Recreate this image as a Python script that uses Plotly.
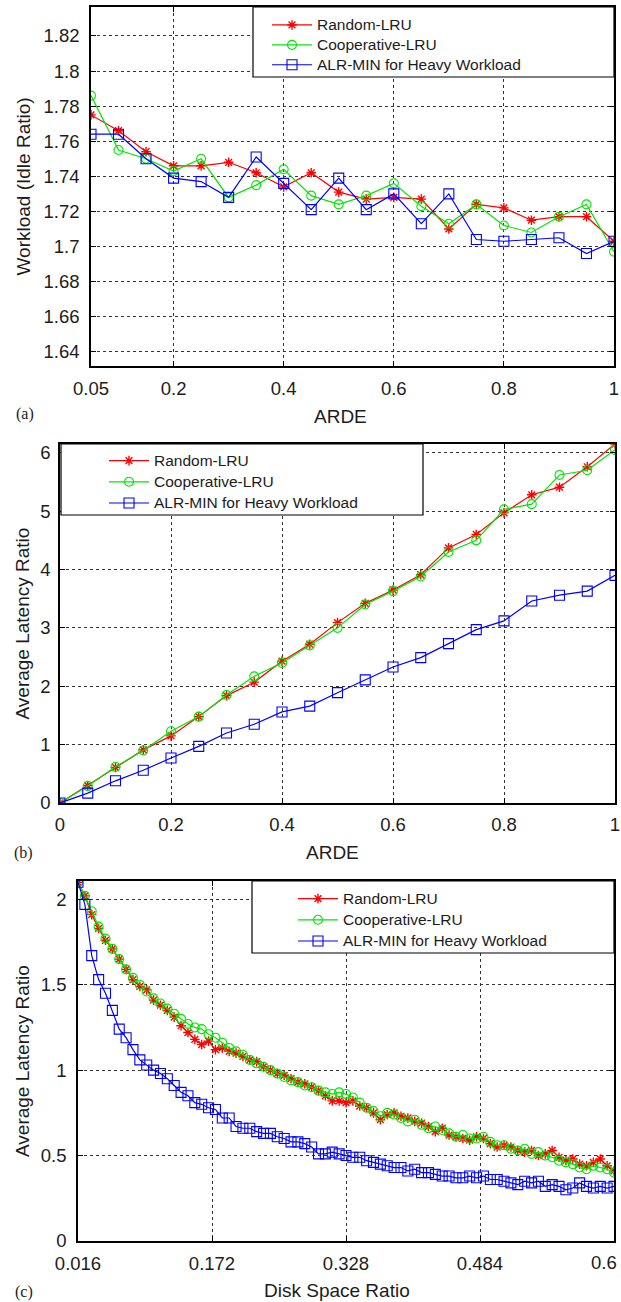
import plotly.graph_objects as go

# ---------------- data ----------------
# Panel (a): Workload (Idle Ratio) vs ARDE
arde_a = [0.05, 0.10, 0.15, 0.20, 0.25, 0.30, 0.35, 0.40, 0.45, 0.50,
          0.55, 0.60, 0.65, 0.70, 0.75, 0.80, 0.85, 0.90, 0.95, 1.00]
a_random = [1.775, 1.766, 1.754, 1.746, 1.746, 1.748, 1.742, 1.734, 1.742, 1.731,
            1.727, 1.728, 1.727, 1.710, 1.724, 1.722, 1.715, 1.717, 1.717, 1.703]
a_coop = [1.786, 1.755, 1.750, 1.743, 1.750, 1.728, 1.735, 1.744, 1.729, 1.724,
          1.729, 1.736, 1.723, 1.713, 1.724, 1.712, 1.708, 1.717, 1.724, 1.697]
a_alr = [1.764, 1.764, 1.750, 1.739, 1.737, 1.728, 1.751, 1.736, 1.721, 1.739,
         1.721, 1.730, 1.713, 1.730, 1.704, 1.703, 1.704, 1.705, 1.696, 1.703]

# Panel (b): Average Latency Ratio vs ARDE
arde_b = [0.00, 0.05, 0.10, 0.15, 0.20, 0.25, 0.30, 0.35, 0.40, 0.45, 0.50,
          0.55, 0.60, 0.65, 0.70, 0.75, 0.80, 0.85, 0.90, 0.95, 1.00]
b_random = [0.0, 0.30, 0.61, 0.91, 1.15, 1.48, 1.84, 2.07, 2.43, 2.72, 3.09,
            3.42, 3.65, 3.91, 4.37, 4.60, 4.97, 5.28, 5.41, 5.76, 6.15]
b_coop = [0.0, 0.29, 0.62, 0.90, 1.23, 1.48, 1.85, 2.17, 2.40, 2.70, 3.00,
          3.40, 3.63, 3.88, 4.30, 4.50, 5.03, 5.12, 5.62, 5.70, 6.05]
b_alr = [0.0, 0.17, 0.38, 0.56, 0.77, 0.97, 1.20, 1.35, 1.56, 1.66, 1.89,
         2.11, 2.33, 2.49, 2.73, 2.97, 3.12, 3.46, 3.56, 3.63, 3.90]

# Panel (c): Average Latency Ratio vs Disk Space Ratio
disk_c = [round(0.016 + 0.008 * i, 3) for i in range(79)]
c_random = [2.10, 2.02, 1.91, 1.83, 1.76, 1.71, 1.65, 1.59, 1.53, 1.49,
            1.47, 1.41, 1.38, 1.35, 1.31, 1.26, 1.22, 1.18, 1.15, 1.17,
            1.12, 1.13, 1.11, 1.10, 1.08, 1.06, 1.05, 1.02, 1.00, 0.98,
            0.97, 0.95, 0.93, 0.92, 0.90, 0.88, 0.85, 0.82, 0.82, 0.81,
            0.82, 0.79, 0.78, 0.75, 0.71, 0.74, 0.75, 0.73, 0.72, 0.70,
            0.69, 0.67, 0.64, 0.66, 0.62, 0.61, 0.60, 0.59, 0.61, 0.60,
            0.57, 0.55, 0.56, 0.55, 0.53, 0.52, 0.53, 0.50, 0.51, 0.53,
            0.49, 0.47, 0.48, 0.45, 0.44, 0.46, 0.48, 0.44, 0.41]
c_coop = [2.10, 2.02, 1.93, 1.84, 1.77, 1.71, 1.65, 1.59, 1.54, 1.50,
          1.46, 1.42, 1.39, 1.36, 1.33, 1.30, 1.27, 1.25, 1.24, 1.21,
          1.19, 1.16, 1.13, 1.11, 1.09, 1.06, 1.04, 1.02, 1.00, 0.98,
          0.96, 0.94, 0.93, 0.91, 0.90, 0.88, 0.87, 0.86, 0.87, 0.86,
          0.84, 0.81, 0.78, 0.76, 0.73, 0.75, 0.74, 0.72, 0.70, 0.71,
          0.68, 0.66, 0.67, 0.65, 0.63, 0.61, 0.62, 0.60, 0.60, 0.61,
          0.58, 0.56, 0.56, 0.54, 0.53, 0.54, 0.51, 0.52, 0.50, 0.49,
          0.47, 0.46, 0.45, 0.43, 0.42, 0.44, 0.43, 0.42, 0.40]
c_alr = [2.10, 1.97, 1.67, 1.53, 1.45, 1.35, 1.24, 1.19, 1.12, 1.06,
         1.03, 1.00, 0.98, 0.95, 0.91, 0.87, 0.85, 0.81, 0.80, 0.78,
         0.77, 0.72, 0.72, 0.67, 0.66, 0.66, 0.64, 0.63, 0.63, 0.61,
         0.60, 0.58, 0.58, 0.57, 0.55, 0.51, 0.51, 0.52, 0.51, 0.50,
         0.49, 0.49, 0.47, 0.46, 0.45, 0.44, 0.43, 0.43, 0.41, 0.42,
         0.40, 0.40, 0.39, 0.38, 0.38, 0.37, 0.37, 0.38, 0.37, 0.38,
         0.36, 0.36, 0.35, 0.34, 0.33, 0.35, 0.34, 0.35, 0.32, 0.33,
         0.32, 0.30, 0.31, 0.34, 0.32, 0.31, 0.32, 0.31, 0.32]

series_names = ["Random-LRU", "Cooperative-LRU", "ALR-MIN for Heavy Workload"]

tick_a_x = [0.05, 0.2, 0.4, 0.6, 0.8, 1.0]
tick_a_x_text = ["0.05", "0.2", "0.4", "0.6", "0.8", "1"]
tick_a_y = [1.64, 1.66, 1.68, 1.70, 1.72, 1.74, 1.76, 1.78, 1.80, 1.82]
tick_a_y_text = ["1.64", "1.66", "1.68", "1.7", "1.72", "1.74", "1.76", "1.78", "1.8", "1.82"]
tick_b_x = [0, 0.2, 0.4, 0.6, 0.8, 1.0]
tick_b_x_text = ["0", "0.2", "0.4", "0.6", "0.8", "1"]
tick_b_y = [0, 1, 2, 3, 4, 5, 6]
tick_c_x = [0.016, 0.172, 0.328, 0.484]
tick_c_x_text = ["0.016", "0.172", "0.328", "0.484"]
tick_c_x_end_text = "0.6"   # last label, shown at the right edge of panel (c)
tick_c_y = [0, 0.5, 1, 1.5, 2]
tick_c_y_text = ["0", "0.5", "1", "1.5", "2"]

# ---------------- layout helpers ----------------
W, H = 621, 1302
def px(x):
    return x / W
def py(y):
    return 1 - y / H

FONT = "Liberation Sans, Arial, Helvetica, sans-serif"
SERIF = "Liberation Serif, Times New Roman, serif"
TXT = "#1c1c1c"
RED, GREEN, BLUE = "#ff0000", "#00e600", "#0000ff"
LEGEND_TEXT_PX = 15.5

styles = [
    dict(line=dict(color=RED, width=1.2),
         marker=dict(symbol="asterisk", size=8, color=RED, line=dict(color=RED, width=1.4))),
    dict(line=dict(color=GREEN, width=1.2),
         marker=dict(symbol="circle-open", size=9, color=GREEN, line=dict(width=1.1))),
    dict(line=dict(color=BLUE, width=1.2),
         marker=dict(symbol="square-open", size=10, color=BLUE, line=dict(width=1.1))),
]

fig = go.Figure()

panels = [
    ("x", "y", "legend", arde_a, [a_random, a_coop, a_alr]),
    ("x2", "y2", "legend2", arde_b, [b_random, b_coop, b_alr]),
    ("x3", "y3", "legend3", disk_c, [c_random, c_coop, c_alr]),
]
for xa, ya, lg, xs, ys_list in panels:
    for name, ys, st in zip(series_names, ys_list, styles):
        label = '<span style="font-size:%spx">%s</span>' % (LEGEND_TEXT_PX, name)
        fig.add_trace(go.Scatter(x=xs, y=ys, name=label, mode="lines+markers",
                                 xaxis=xa, yaxis=ya, legend=lg,
                                 line=st["line"], marker=st["marker"]))

# plot rectangles in pixels: (left, right, top, bottom)
boxes = {
    "a": (91, 614, 7, 366),
    "b": (60, 615, 444, 803),
    "c": (78, 614, 881, 1241),
}

def axis_common(**kw):
    d = dict(showline=True, linecolor="black", linewidth=1.5, mirror="ticks",
             ticks="inside", ticklen=5, tickcolor="black", tickwidth=1,
             showgrid=True, gridcolor="#333333", gridwidth=1, griddash="3px,3px",
             zeroline=False, automargin=False, ticklabeloverflow="allow",
             tickfont=dict(family=FONT, size=18.5, color=TXT))
    d.update(kw)
    return d

la, ra, ta, ba = boxes["a"]
lb, rb, tb, bb = boxes["b"]
lc, rc, tc, bc = boxes["c"]

fig.update_layout(
    width=W, height=H,
    margin=dict(l=0, r=0, t=0, b=0, pad=0),
    paper_bgcolor="white", plot_bgcolor="white",
    showlegend=True,
    xaxis=axis_common(domain=[px(la), px(ra)], range=[0.05, 1.0], anchor="y",
                      tickvals=tick_a_x, ticktext=tick_a_x_text, ticklabelstandoff=5),
    yaxis=axis_common(domain=[py(ba), py(ta)], range=[1.6319, 1.8365], anchor="x",
                      tickvals=tick_a_y, ticktext=tick_a_y_text, ticklabelstandoff=6),
    xaxis2=axis_common(domain=[px(lb), px(rb)], range=[0, 1.0], anchor="y2",
                       tickvals=tick_b_x, ticktext=tick_b_x_text, ticklabelstandoff=4),
    yaxis2=axis_common(domain=[py(bb), py(tb)], range=[0, 6.15], anchor="x2",
                       tickvals=tick_b_y, ticklabelstandoff=4),
    xaxis3=axis_common(domain=[px(lc), px(rc)], range=[0.016, 0.64], anchor="y3",
                       tickvals=tick_c_x, ticktext=tick_c_x_text, ticklabelstandoff=5),
    yaxis3=axis_common(domain=[py(bc), py(tc)], range=[0, 2.107], anchor="x3",
                       tickvals=tick_c_y, ticktext=tick_c_y_text, ticklabelstandoff=6),
)

# legends: opaque boxes drawn as shapes, legend entries on top
legend_boxes = {
    "legend": (253, 614, 7, 77),
    "legend2": (61, 423, 444, 515),
    "legend3": (252, 614, 881, 953),
}
# (left px, top px, row font size that sets row spacing)
legend_pos = {
    "legend": (267, 10, 13),
    "legend2": (104, 445, 14),
    "legend3": (293, 883, 14),
}
shapes = []
for key, (l, r, t, b) in legend_boxes.items():
    shapes.append(dict(type="rect", xref="paper", yref="paper",
                       x0=px(l), x1=px(r), y0=py(b), y1=py(t),
                       fillcolor="white", line=dict(color="black", width=1.2),
                       layer="above"))
fig.update_layout(shapes=shapes)
for key, (lx, ty, fs) in legend_pos.items():
    fig.update_layout({key: dict(x=px(lx), y=py(ty), xanchor="left", yanchor="top",
                                 xref="paper", yref="paper",
                                 bgcolor="rgba(0,0,0,0)", borderwidth=0,
                                 itemwidth=40,
                                 font=dict(family=FONT, size=fs, color=TXT))})

# axis titles and panel labels
ann = []
def title(x, y, text, angle=0, size=19, family=FONT, anchor="center"):
    ann.append(dict(x=px(x), y=py(y), xref="paper", yref="paper", text=text,
                    showarrow=False, textangle=angle, xanchor=anchor, yanchor="middle",
                    font=dict(family=family, size=size, color=TXT)))

title(23, (ta + ba) / 2, "Workload (Idle Ratio)", angle=-90)
title(340, 416, "ARDE")
title(25, 414, "(a)", size=16, family=SERIF)
title(22, (tb + bb) / 2, "Average Latency Ratio", angle=-90)
title(332, 852, "ARDE")
title(23, 853, "(b)", size=16, family=SERIF)
title(22, (tc + bc) / 2, "Average Latency Ratio", angle=-90)
title(337, 1290, "Disk Space Ratio")
title(24, 1292, "(c)", size=16, family=SERIF)
title(619, 1262, tick_c_x_end_text, size=18.5, anchor="right")
fig.update_layout(annotations=ann)

fig.write_html("out.html")
